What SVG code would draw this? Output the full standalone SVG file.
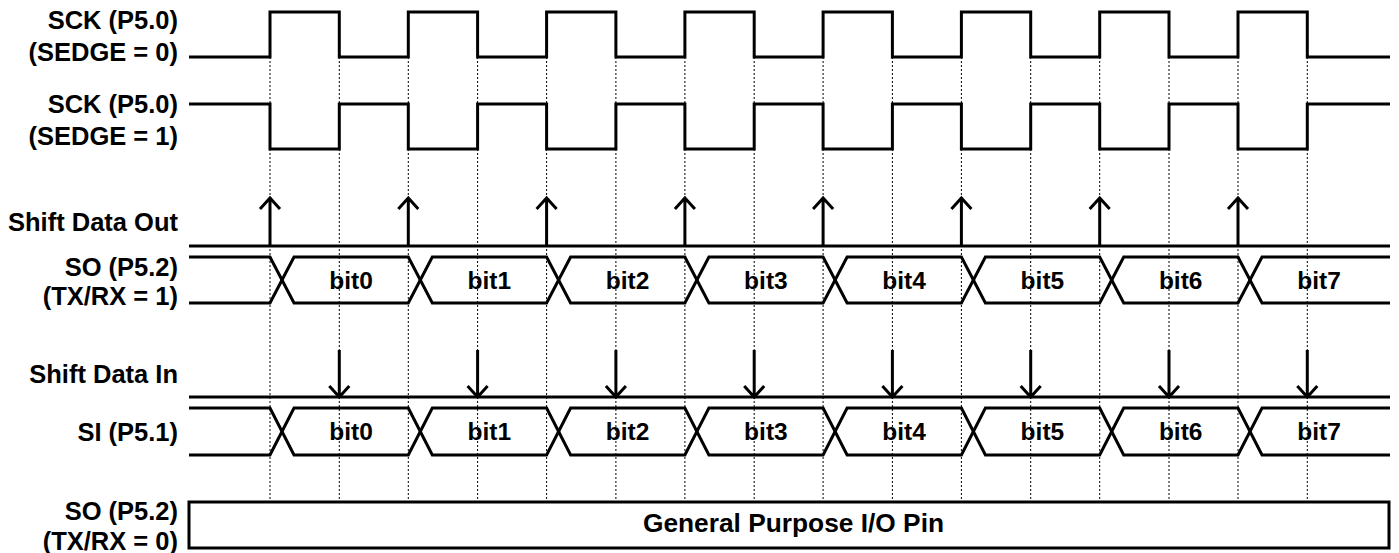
<svg xmlns="http://www.w3.org/2000/svg" width="1399" height="553" viewBox="0 0 1399 553">
<style>
.lbl{font-family:"Liberation Sans",Arial,sans-serif;font-weight:bold;font-size:25.5px;fill:#000;text-anchor:end}
.bit{font-family:"Liberation Sans",Arial,sans-serif;font-weight:bold;font-size:24.5px;fill:#000;text-anchor:middle}
.gp{font-family:"Liberation Sans",Arial,sans-serif;font-weight:bold;font-size:26.3px;fill:#000;text-anchor:middle}
.sig{fill:none;stroke:#000;stroke-width:3;stroke-linejoin:miter;stroke-linecap:butt}
.dot{fill:none;stroke:#000;stroke-width:1;stroke-dasharray:2,2}
.arr{fill:none;stroke:#000;stroke-width:3}
</style>
<rect width="1399" height="553" fill="#fff"/>
<g id="guides">
<path class="dot" d="M270,57V502M339.3,57V502M408.3,57V502M477.6,57V502M546.6,57V502M615.9,57V502M684.9,57V502M754.2,57V502M823.1,57V502M892.4,57V502M961.4,57V502M1030.7,57V502M1099.7,57V502M1169,57V502M1238,57V502M1307.3,57V502"/>
</g>
<g id="sck0">
<text class="lbl" x="178" y="28.5">SCK (P5.0)</text>
<text class="lbl" x="178" y="60.5">(SEDGE = 0)</text>
<path class="sig" d="M189,57H270V12H339.3V57H408.3V12H477.6V57H546.6V12H615.9V57H684.9V12H754.2V57H823.1V12H892.4V57H961.4V12H1030.7V57H1099.7V12H1169V57H1238V12H1307.3V57H1390"/>
</g>
<g id="sck1">
<text class="lbl" x="178" y="113">SCK (P5.0)</text>
<text class="lbl" x="178" y="145">(SEDGE = 1)</text>
<path class="sig" d="M189,104H270V149H339.3V104H408.3V149H477.6V104H546.6V149H615.9V104H684.9V149H754.2V104H823.1V149H892.4V104H961.4V149H1030.7V104H1099.7V149H1169V104H1238V149H1307.3V104H1390"/>
</g>
<g id="shiftout">
<text class="lbl" x="178" y="231">Shift Data Out</text>
<path class="sig" d="M189,246H1390"/>
</g>
<g id="so">
<text class="lbl" x="178" y="276">SO (P5.2)</text>
<text class="lbl" x="178" y="305">(TX/RX = 1)</text>
<path class="sig" d="M189,257H270L294,303H408.3L432.3,257H546.6L570.6,303H684.9L708.9,257H823.1L847.1,303H961.4L985.4,257H1099.7L1123.7,303H1238L1262,257H1390"/>
<path class="sig" d="M189,303H270L294,257H408.3L432.3,303H546.6L570.6,257H684.9L708.9,303H823.1L847.1,257H961.4L985.4,303H1099.7L1123.7,257H1238L1262,303H1390"/>
<text class="bit" x="351" y="289">bit0</text>
<text class="bit" x="489.3" y="289">bit1</text>
<text class="bit" x="627.6" y="289">bit2</text>
<text class="bit" x="765.9" y="289">bit3</text>
<text class="bit" x="904.1" y="289">bit4</text>
<text class="bit" x="1042.4" y="289">bit5</text>
<text class="bit" x="1180.7" y="289">bit6</text>
<text class="bit" x="1319" y="289">bit7</text>
</g>
<g id="shiftin">
<text class="lbl" x="178" y="383">Shift Data In</text>
<path class="sig" d="M189,397H1390"/>
</g>
<g id="si">
<text class="lbl" x="178" y="441">SI (P5.1)</text>
<path class="sig" d="M189,408H270L294,455H408.3L432.3,408H546.6L570.6,455H684.9L708.9,408H823.1L847.1,455H961.4L985.4,408H1099.7L1123.7,455H1238L1262,408H1390"/>
<path class="sig" d="M189,455H270L294,408H408.3L432.3,455H546.6L570.6,408H684.9L708.9,455H823.1L847.1,408H961.4L985.4,455H1099.7L1123.7,408H1238L1262,455H1390"/>
<text class="bit" x="351" y="440">bit0</text>
<text class="bit" x="489.3" y="440">bit1</text>
<text class="bit" x="627.6" y="440">bit2</text>
<text class="bit" x="765.9" y="440">bit3</text>
<text class="bit" x="904.1" y="440">bit4</text>
<text class="bit" x="1042.4" y="440">bit5</text>
<text class="bit" x="1180.7" y="440">bit6</text>
<text class="bit" x="1319" y="440">bit7</text>
</g>
<g id="gpio">
<text class="lbl" x="178" y="520">SO (P5.2)</text>
<text class="lbl" x="178" y="550">(TX/RX = 0)</text>
<rect class="sig" x="189" y="502" width="1200" height="46"/>
<text class="gp" x="793.5" y="532">General Purpose I/O Pin</text>
</g>
<g id="connectors">
<path class="arr" d="M270,246V198M260,209L270,198L280,209"/>
<path class="arr" d="M408.3,246V198M398.3,209L408.3,198L418.3,209"/>
<path class="arr" d="M546.6,246V198M536.6,209L546.6,198L556.6,209"/>
<path class="arr" d="M684.9,246V198M674.9,209L684.9,198L694.9,209"/>
<path class="arr" d="M823.1,246V198M813.1,209L823.1,198L833.1,209"/>
<path class="arr" d="M961.4,246V198M951.4,209L961.4,198L971.4,209"/>
<path class="arr" d="M1099.7,246V198M1089.7,209L1099.7,198L1109.7,209"/>
<path class="arr" d="M1238,246V198M1228,209L1238,198L1248,209"/>
<path class="arr" d="M339.3,350V397M329.3,386L339.3,397L349.3,386"/>
<path class="arr" d="M477.6,350V397M467.6,386L477.6,397L487.6,386"/>
<path class="arr" d="M615.9,350V397M605.9,386L615.9,397L625.9,386"/>
<path class="arr" d="M754.2,350V397M744.2,386L754.2,397L764.2,386"/>
<path class="arr" d="M892.4,350V397M882.4,386L892.4,397L902.4,386"/>
<path class="arr" d="M1030.7,350V397M1020.7,386L1030.7,397L1040.7,386"/>
<path class="arr" d="M1169,350V397M1159,386L1169,397L1179,386"/>
<path class="arr" d="M1307.3,350V397M1297.3,386L1307.3,397L1317.3,386"/>
</g>
</svg>
